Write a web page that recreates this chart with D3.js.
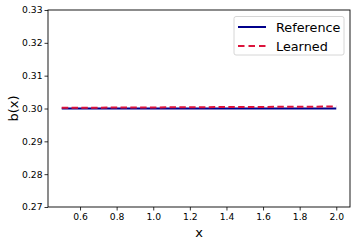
<!DOCTYPE html>
<html><head><meta charset="utf-8">
<script src="https://cdn.jsdelivr.net/npm/d3@7"></script>
<style>body{margin:0;background:#fff}svg{display:block}text{font-family:"DejaVu Sans",sans-serif}</style>
</head><body>
<script>
const xValues = [0.5, 0.75, 1.0, 1.25, 1.5, 1.75, 2.0];
const referenceValues = [0.3, 0.3, 0.3, 0.3, 0.3, 0.3, 0.3];
const learnedValues = [0.3002, 0.30027, 0.30033, 0.3004, 0.30046, 0.30053, 0.3006];
const xTicks = [0.6, 0.8, 1.0, 1.2, 1.4, 1.6, 1.8, 2.0];
const yTicks = [0.27, 0.28, 0.29, 0.30, 0.31, 0.32, 0.33];
const seriesNames = ["Reference", "Learned"];

const W = 357, H = 244;
const m = {l: 48, r: 350, t: 10, b: 207};
const svg = d3.select("body").append("svg").attr("width", W).attr("height", H);
const x = d3.scaleLinear().domain([0.425, 2.075]).range([m.l, m.r]);
const y = d3.scaleLinear().domain([0.27, 0.33]).range([m.b, m.t]);

const line = d3.line().x(d => x(d[0])).y(d => y(d[1]));
svg.append("path").datum(xValues.map((v, i) => [v, referenceValues[i]]))
  .attr("d", line).attr("fill", "none").attr("stroke", "#00008b").attr("stroke-width", 2);
svg.append("path").datum(xValues.map((v, i) => [v, learnedValues[i]]))
  .attr("d", line).attr("fill", "none").attr("stroke", "#dc143c").attr("stroke-width", 2)
  .attr("stroke-dasharray", "6.5,3.3");

const xa = svg.append("g").attr("transform", `translate(0,${m.b})`)
  .call(d3.axisBottom(x).tickValues(xTicks).tickFormat(d3.format(".1f")).tickSize(3.5).tickSizeOuter(0));
const ya = svg.append("g").attr("transform", `translate(${m.l},0)`)
  .call(d3.axisLeft(y).tickValues(yTicks).tickFormat(d3.format(".2f")).tickSize(3.5).tickSizeOuter(0));
[xa, ya].forEach(a => {
  a.select(".domain").remove();
  a.selectAll("line").attr("stroke", "#000").attr("stroke-width", 0.8);
  a.selectAll("text").attr("font-size", 9.2).attr("fill", "#000").attr("font-family", "DejaVu Sans");
});
xa.selectAll("text").attr("dy", "0.71em").attr("y", 6);
ya.selectAll("text").attr("x", -5.5);

svg.append("rect").attr("x", m.l).attr("y", m.t).attr("width", m.r - m.l).attr("height", m.b - m.t)
  .attr("fill", "none").attr("stroke", "#000").attr("stroke-width", 0.9);

svg.append("text").attr("x", (m.l + m.r) / 2).attr("y", 237).attr("text-anchor", "middle")
  .attr("font-size", 13).text("x");
svg.append("text").attr("transform", `translate(18,${(m.t + m.b) / 2}) rotate(-90)`)
  .attr("text-anchor", "middle").attr("font-size", 13).text("b(x)");

const lg = svg.append("g");
lg.append("rect").attr("x", 234).attr("y", 16.5).attr("width", 110).attr("height", 38.5).attr("rx", 2)
  .attr("fill", "#fff").attr("fill-opacity", 0.8).attr("stroke", "#ccc").attr("stroke-width", 0.8);
const colors = ["#00008b", "#dc143c"];
seriesNames.forEach((n, i) => {
  const yy = 27 + i * 19;
  lg.append("line").attr("x1", 238).attr("x2", 266).attr("y1", yy).attr("y2", yy)
    .attr("stroke", colors[i]).attr("stroke-width", 2).attr("stroke-dasharray", i ? "6.5,4" : null);
  lg.append("text").attr("x", 276).attr("y", yy + 4.6).attr("font-size", 12.8).text(n);
});
</script>
</body></html>
